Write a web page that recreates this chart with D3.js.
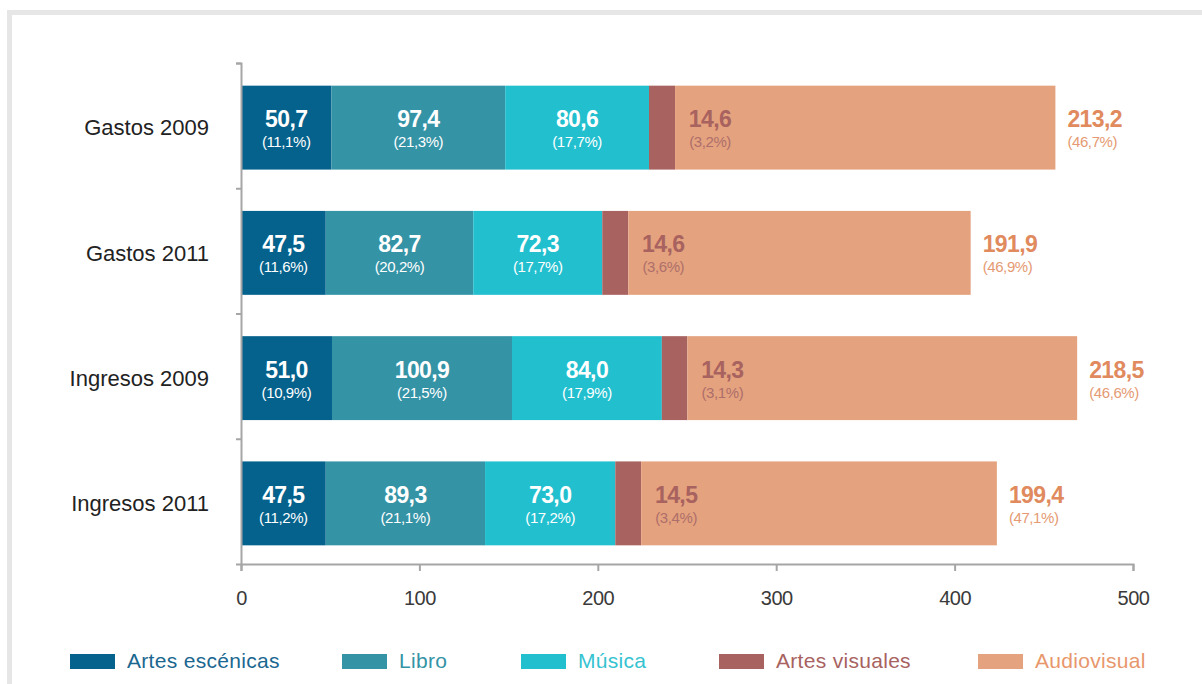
<!DOCTYPE html>
<html>
<head>
<meta charset="utf-8">
<script src="https://cdn.jsdelivr.net/npm/d3@7.9.0/dist/d3.min.js"></script>
<style>
  body { margin: 0; background: #fff; }
  svg { display: block; font-family: "Liberation Sans", Arial, sans-serif; }
</style>
</head>
<body>
<svg width="1202" height="684"></svg>
<script>
// Data
const rows = ['Gastos 2009', 'Gastos 2011', 'Ingresos 2009', 'Ingresos 2011'];
const sectors = ['Artes escénicas', 'Libro', 'Música', 'Artes visuales', 'Audiovisual'];
const gastos2009 = [50.7, 97.4, 80.6, 14.6, 213.2];
const gastos2011 = [47.5, 82.7, 72.3, 14.6, 191.9];
const ingresos2009 = [51.0, 100.9, 84.0, 14.3, 218.5];
const ingresos2011 = [47.5, 89.3, 73.0, 14.5, 199.4];
const pctGastos2009 = [11.1, 21.3, 17.7, 3.2, 46.7];
const pctGastos2011 = [11.6, 20.2, 17.7, 3.6, 46.9];
const pctIngresos2009 = [10.9, 21.5, 17.9, 3.1, 46.6];
const pctIngresos2011 = [11.2, 21.1, 17.2, 3.4, 47.1];
const xTicks = [0, 100, 200, 300, 400, 500];

const values = [gastos2009, gastos2011, ingresos2009, ingresos2011];
const pcts = [pctGastos2009, pctGastos2011, pctIngresos2009, pctIngresos2011];

const barColors = ['#05628c', '#3593a6', '#22bfcf', '#a8625f', '#e5a27e'];
const legendText = ['#1a6790', '#3593a6', '#35c3d1', '#a8625f', '#e8976d'];

// comma decimals
const es = d3.formatLocale({ decimal: ',', thousands: '.', grouping: [3], currency: ['', '€'] });
const fmt = es.format('.1f');

const svg = d3.select('svg');

// light gray frame
svg.append('path')
    .attr('d', 'M9.5,684 V12.5 H1202')
    .attr('fill', 'none')
    .attr('stroke', '#e6e6e6')
    .attr('stroke-width', 5);

// Scales
const x = d3.scaleLinear().domain([0, 500]).range([241, 1133]);
const y = d3.scaleBand().domain(rows).range([63, 564]).paddingInner(0.33).paddingOuter(0.165);
const yEdge = d3.scaleLinear().domain([0, 4]).range([63, 564]);

// Stack the data
const table = rows.map((r, i) => {
    let o = { row: r };
    sectors.forEach((s, j) => { o[s] = values[i][j]; });
    return o;
});
const stacked = d3.stack().keys(sectors)(table);

// Bars
const barOffset = 2;
stacked.forEach((layer, j) => {
    svg.append('g')
        .selectAll('rect')
        .data(layer)
        .join('rect')
        .attr('x', (d) => x(d[0]))
        .attr('y', (d) => y(d.data.row) + barOffset)
        .attr('width', (d) => x(d[1]) - x(d[0]))
        .attr('height', y.bandwidth())
        .attr('fill', barColors[j]);
});

// Value labels
stacked.forEach((layer, j) => {
    layer.forEach((d, i) => {
        const cy = y(d.data.row) + barOffset + y.bandwidth() / 2;
        let lx, anchor, c1, c2;
        if (j < 3) {
            lx = (x(d[0]) + x(d[1])) / 2; anchor = 'middle'; c1 = '#fff'; c2 = '#fff';
        } else if (j === 3) {
            lx = x(d[1]) + 35; anchor = 'middle'; c1 = '#a8625f'; c2 = '#ad6f6b';
        } else {
            lx = x(d[1]) + 12; anchor = 'start'; c1 = '#e08a5e'; c2 = '#e59a73';
        }
        const g = svg.append('g').attr('text-anchor', anchor);
        g.append('text')
            .attr('x', lx)
            .attr('y', cy - 0.5)
            .attr('fill', c1)
            .attr('font-size', 23)
            .attr('font-weight', 'bold')
            .attr('letter-spacing', -0.6)
            .text(fmt(values[i][j]));
        g.append('text')
            .attr('x', lx)
            .attr('y', cy + 19.5)
            .attr('fill', c2)
            .attr('font-size', 15)
            .attr('letter-spacing', -0.4)
            .text('(' + fmt(pcts[i][j]) + '%)');
    });
});

// Axes
const axisColor = '#a6a6a6';

const yAxis = svg.append('g')
    .attr('transform', 'translate(241,0)')
    .call(d3.axisLeft(yEdge).tickValues([0, 1, 2, 3]).tickSize(5).tickSizeOuter(5).tickFormat(''));
yAxis.selectAll('path, line').attr('stroke', axisColor).attr('stroke-width', 2);

const xAxis = svg.append('g')
    .attr('transform', 'translate(0,564)')
    .call(d3.axisBottom(x).tickValues(xTicks).tickSize(7).tickSizeOuter(7).tickPadding(20));
xAxis.selectAll('path, line').attr('stroke', axisColor).attr('stroke-width', 2);
xAxis.selectAll('text')
    .attr('font-size', 20)
    .attr('font-family', '"Liberation Sans", Arial, sans-serif')
    .attr('fill', '#3a3a3a')
    .attr('letter-spacing', -0.5);

// Category labels
svg.append('g')
    .selectAll('text')
    .data(rows)
    .join('text')
    .attr('x', 209)
    .attr('y', (d) => y(d) + barOffset + y.bandwidth() / 2)
    .attr('dy', '0.35em')
    .attr('text-anchor', 'end')
    .attr('font-size', 22)
    .attr('fill', '#222')
    .text((d) => d);

// Legend
const legendX = [70, 342, 521, 719, 978];
const legend = svg.append('g');
sectors.forEach((s, j) => {
    legend.append('rect')
        .attr('x', legendX[j])
        .attr('y', 654)
        .attr('width', 45)
        .attr('height', 15)
        .attr('fill', barColors[j]);
    legend.append('text')
        .attr('x', legendX[j] + 57)
        .attr('y', 661)
        .attr('dy', '0.35em')
        .attr('font-size', 21)
        .attr('fill', legendText[j])
        .attr('letter-spacing', 0.3)
        .text(s);
});
</script>
</body>
</html>
